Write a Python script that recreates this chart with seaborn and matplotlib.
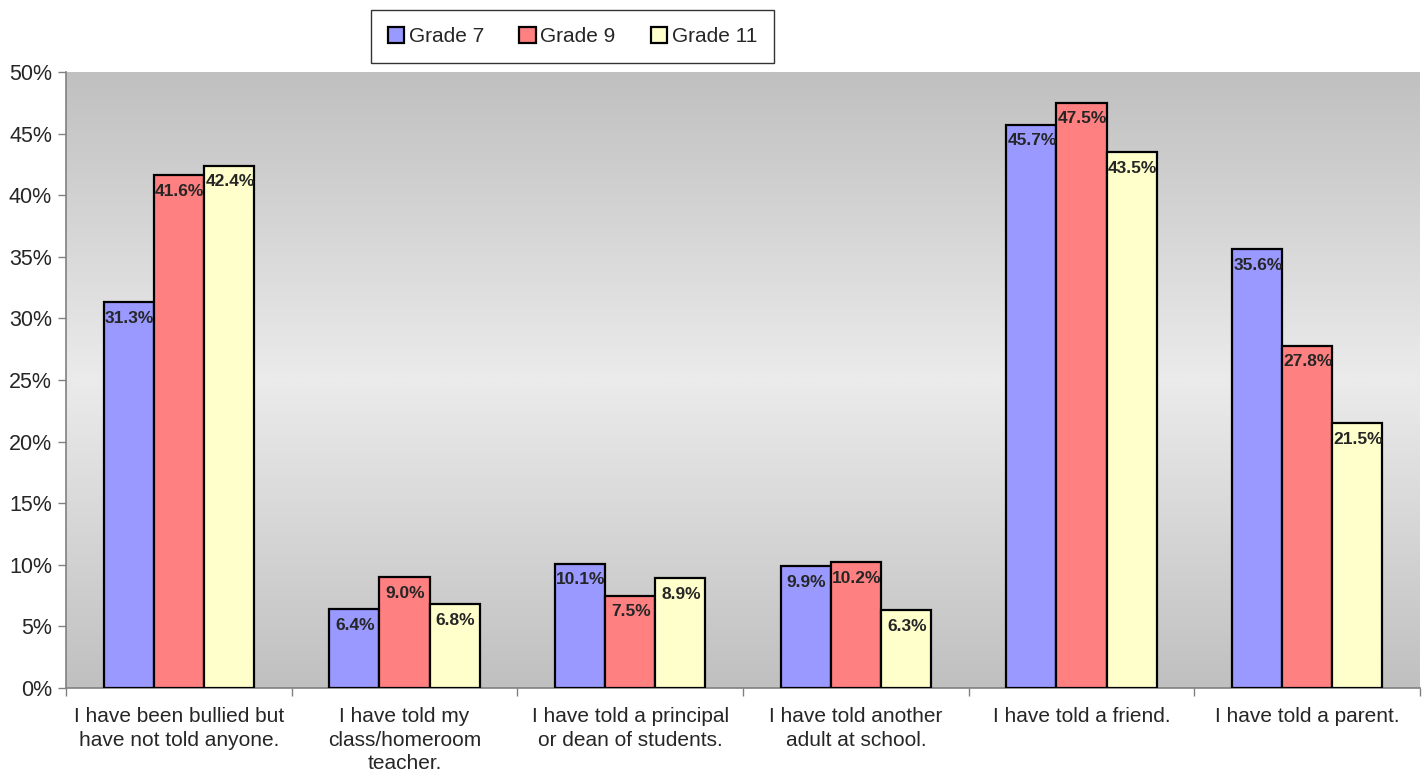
import numpy as np
import pandas as pd
import matplotlib
matplotlib.use("Agg")
import matplotlib.pyplot as plt
import seaborn as sns
from matplotlib.colors import LinearSegmentedColormap

# Data (percent of students)
categories = [
    "I have been bullied but\nhave not told anyone.",
    "I have told my\nclass/homeroom\nteacher.",
    "I have told a principal\nor dean of students.",
    "I have told another\nadult at school.",
    "I have told a friend.",
    "I have told a parent.",
]
grades = ["Grade 7", "Grade 9", "Grade 11"]
grade7 = [31.3, 6.4, 10.1, 9.9, 45.7, 35.6]
grade9 = [41.6, 9.0, 7.5, 10.2, 47.5, 27.8]
grade11 = [42.4, 6.8, 8.9, 6.3, 43.5, 21.5]
y_ticks = [0, 5, 10, 15, 20, 25, 30, 35, 40, 45, 50]

colors = ["#9999FF", "#FF8080", "#FFFFCC"]

df = pd.DataFrame({
    "category": categories * 3,
    "grade": [g for g in grades for _ in categories],
    "value": grade7 + grade9 + grade11,
})

sns.set_style("white")
plt.rcParams['font.family'] = ['Liberation Sans', 'DejaVu Sans']

fig = plt.figure(figsize=(14.27, 7.84), dpi=100)
ax = fig.add_axes([66 / 1427, 96 / 784, 1354 / 1427, 616 / 784])

sns.barplot(data=df, x="category", y="value", hue="grade", order=categories,
            hue_order=grades, palette=colors, width=0.667, edgecolor="black",
            linewidth=1.6, saturation=1, ax=ax, zorder=3)

# gray-light-gray gradient in the plot area
grad = np.concatenate([np.linspace(0, 1, 128), np.linspace(1, 0, 128)])[:, None]
cmap = LinearSegmentedColormap.from_list("bg", ["#C0C0C0", "#EBEBEB"])
ax.imshow(grad, cmap=cmap, aspect="auto", extent=[-0.5, 5.5, 0, 50],
          zorder=0, interpolation="bilinear")

ax.set_xlim(-0.5, 5.5)
ax.set_ylim(0, 50)
ax.set_yticks(y_ticks)
ax.set_yticklabels([f"{v}%" for v in y_ticks], fontsize=15.5)
ax.set_xticks(range(len(categories)))
ax.set_xticklabels(categories, fontsize=15, linespacing=1.3)
ax.set_xticks(np.arange(-0.5, 6, 1), minor=True)
ax.tick_params(axis="x", which="major", length=0, pad=14)
ax.tick_params(axis="x", which="minor", length=6, width=1, color="#808080", bottom=True)
ax.tick_params(axis="y", length=6, width=1, color="#808080", left=True, pad=4)
ax.set_xlabel("")
ax.set_ylabel("")

for side in ["top", "right"]:
    ax.spines[side].set_visible(False)
for side in ["left", "bottom"]:
    ax.spines[side].set_color("#808080")
    ax.spines[side].set_linewidth(1.2)

# value labels just inside the bar tops
for cont in ax.containers:
    for bar in cont:
        h = bar.get_height()
        ax.annotate(f"{h:.1f}%", (bar.get_x() + bar.get_width() / 2, h),
                    xytext=(1, -16), textcoords="offset pixels",
                    ha="center", va="center", fontsize=12.5, fontweight="bold",
                    zorder=5)

sns.move_legend(ax, loc="center", bbox_to_anchor=(0.374, 1.058), ncol=3,
                title=None, frameon=True, fontsize=15, handlelength=0.8,
                handleheight=0.8, handletextpad=0.2, columnspacing=1.7,
                borderpad=0.8, fancybox=False)
leg = ax.get_legend()
leg.get_frame().set_edgecolor("black")
leg.get_frame().set_linewidth(1.0)

fig.savefig("out.png", dpi=100)
